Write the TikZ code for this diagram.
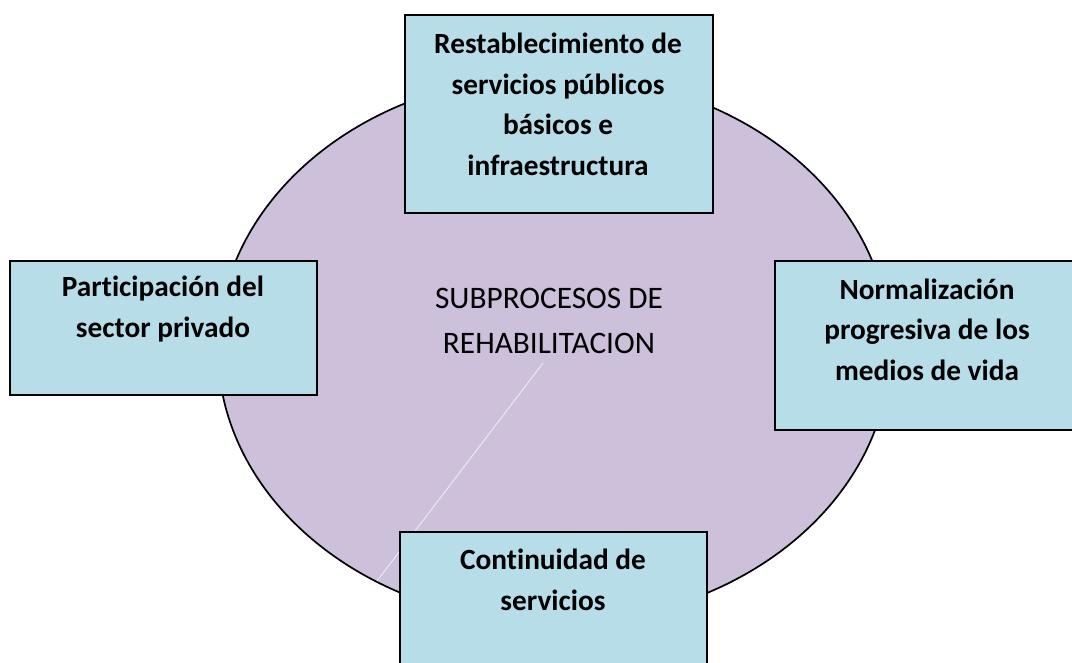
\documentclass[tikz,border=0pt]{standalone}
\usepackage{fontspec}
\setmainfont[RawFeature=-liga]{Carlito}
\usetikzlibrary{shapes.geometric}
\definecolor{boxfill}{HTML}{B7DDE8}
\definecolor{ellfill}{HTML}{CCC0DA}
\definecolor{faint}{HTML}{EFEBF4}
\begin{document}
\begin{tikzpicture}[x=1pt,y=-1pt,
  core/.style={ellipse, draw=black, line width=1.7pt, fill=ellfill, inner sep=0pt},
  boxnode/.style={draw=black, line width=1.8pt, fill=boxfill, inner sep=0pt, anchor=north west},
  boldtxt/.style={font=\fontsize{29.3}{40.5}\selectfont\bfseries, align=center, anchor=base, inner sep=0pt},
  maintxt/.style={font=\fontsize{31.3}{45}\selectfont, align=center, anchor=base, inner sep=0pt},
  faintline/.style={draw=faint, line width=0.9pt}]
\useasboundingbox (0,0) rectangle (1072,662);
\clip (0,0) rectangle (1072,662);
% central ellipse
\node[core, minimum width=672pt, minimum height=548pt] (ell) at (554,349) {};
% faint line inside the ellipse
\coordinate (fa) at (543,363);
\coordinate (fb) at (377,581);
\draw[faintline] (fa) -- (fb);
% boxes
\node[boxnode, minimum width=308pt, minimum height=198pt] (top) at (404,14) {};
\node[boxnode, minimum width=307pt, minimum height=134pt] (left) at (9,260) {};
\node[boxnode, minimum width=320pt, minimum height=169pt] (right) at (774,260) {};
\node[boxnode, minimum width=307pt, minimum height=150pt] (bottom) at (399,531) {};
% texts (anchor = baseline of the last line)
\node[maintxt] (ctext) at (549,353) {SUBPROCESOS DE\\REHABILITACION};
\node[boldtxt] (ttext) at (558,175) {Restablecimiento de\\servicios públicos\\básicos e\\infraestructura};
\node[boldtxt] (ltext) at (163,337) {Participación del\\sector privado};
\node[boldtxt] (rtext) at (927,380) {Normalización\\progresiva de los\\medios de vida};
\node[boldtxt] (btext) at (553,610) {Continuidad de\\servicios};
\end{tikzpicture}
\end{document}
